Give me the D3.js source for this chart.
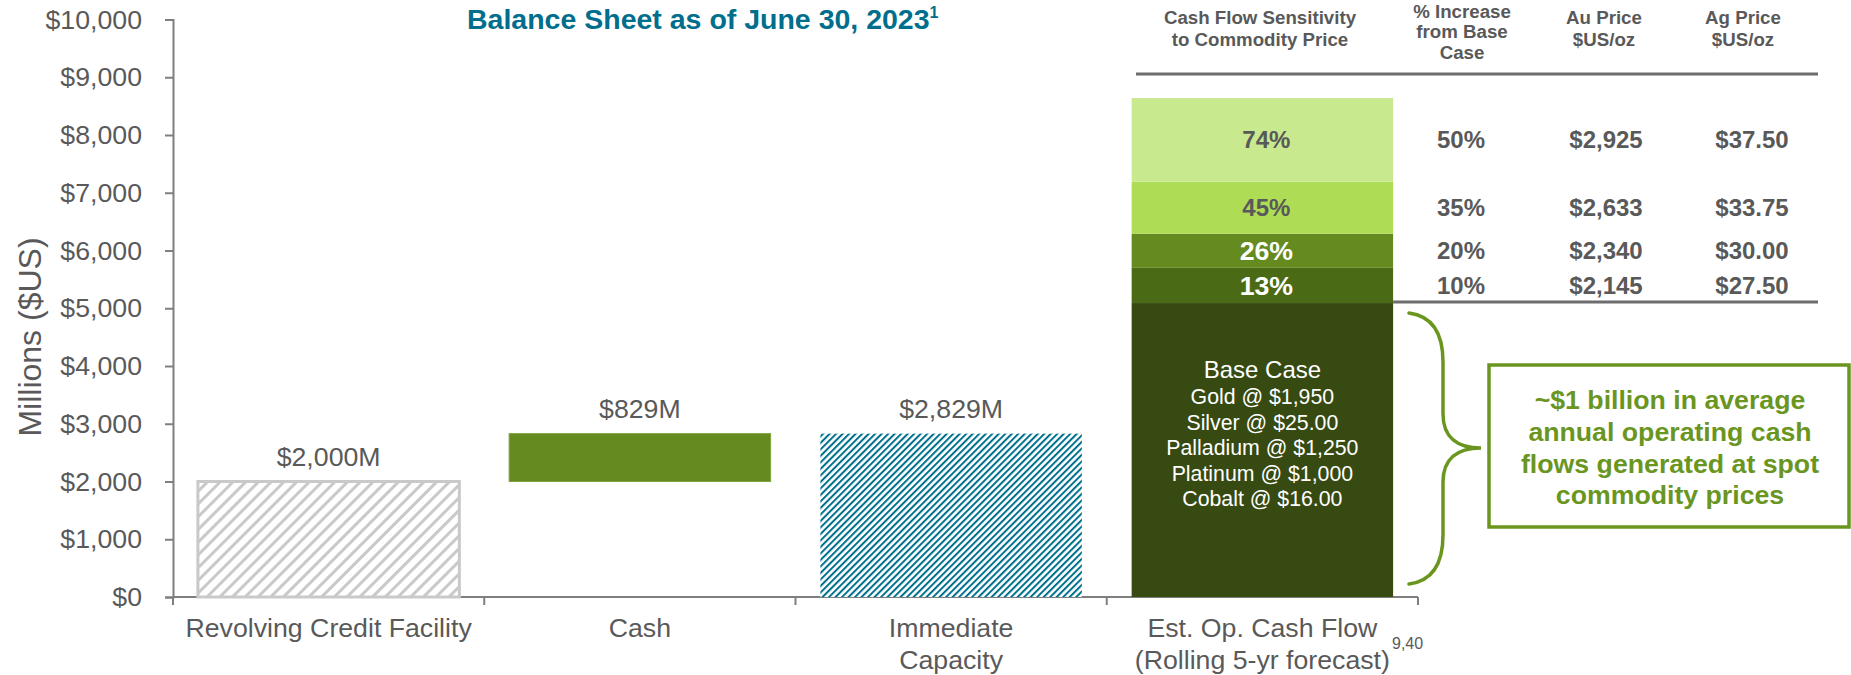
<!DOCTYPE html>
<html>
<head>
<meta charset="utf-8">
<script src="https://cdn.jsdelivr.net/npm/d3@7"></script>
<style>
  html, body { margin: 0; padding: 0; background: #fff; }
  svg { display: block; font-family: "Liberation Sans", Arial, sans-serif; }
</style>
</head>
<body>
<svg id="chart" width="1851" height="675"></svg>
<script>
// ---------------- DATA ----------------
const categories = ["Revolving Credit Facility", "Cash", "Immediate Capacity", "Est. Op. Cash Flow (Rolling 5-yr forecast)"];
const categoryLines = [["Revolving Credit Facility"], ["Cash"], ["Immediate", "Capacity"], ["Est. Op. Cash Flow", "(Rolling 5-yr forecast)"]];
const barBase = [0, 2000, 0];          // floating start of first three bars
const barValue = [2000, 829, 2829];     // amount of first three bars
const barLabels = ["$2,000M", "$829M", "$2,829M"];
const yTicks = [0, 1000, 2000, 3000, 4000, 5000, 6000, 7000, 8000, 9000, 10000];

// stacked est. op. cash flow: base case then sensitivity increments (bottom to top)
const stackNames = ["Base Case", "13%", "26%", "45%", "74%"];
const stackValues = [5090, 610, 590, 900, 1450];

const pctIncrease = ["", "10%", "20%", "35%", "50%"];
const auPrice = ["", "$2,145", "$2,340", "$2,633", "$2,925"];
const agPrice = ["", "$27.50", "$30.00", "$33.75", "$37.50"];
const baseCaseLines = ["Gold @ $1,950", "Silver @ $25.00", "Palladium @ $1,250", "Platinum @ $1,000", "Cobalt @ $16.00"];
const calloutLines = ["~$1 billion in average", "annual operating cash", "flows generated at spot", "commodity prices"];

// ---------------- SETUP ----------------
const svg = d3.select("#chart");
const gray = "#595959";
const green = "#6a961f";
const stackColors = ["#364a12", "#4b6a16", "#658a1f", "#aedd55", "#c9e98f"];

const x = d3.scaleBand().domain(categories).range([173, 1418]).paddingInner(0.16).paddingOuter(0.08);
const y = d3.scaleLinear().domain([0, 10000]).range([597, 19.5]);

// patterns
const defs = svg.append("defs");
const pGray = defs.append("pattern").attr("id", "hatchGray").attr("patternUnits", "userSpaceOnUse")
  .attr("width", 9).attr("height", 9).attr("patternTransform", "rotate(45)");
pGray.append("rect").attr("width", 9).attr("height", 9).attr("fill", "#fff");
pGray.append("rect").attr("x", 0).attr("width", 3).attr("height", 9).attr("fill", "#c9c9c9");

const pTeal = defs.append("pattern").attr("id", "hatchTeal").attr("patternUnits", "userSpaceOnUse")
  .attr("width", 4.6).attr("height", 4.6).attr("patternTransform", "rotate(45)");
pTeal.append("rect").attr("width", 4.6).attr("height", 4.6).attr("fill", "#fff");
pTeal.append("rect").attr("x", 0).attr("width", 2).attr("height", 4.6).attr("fill", "#00708c");

// ---------------- AXES ----------------
const yAxis = d3.axisLeft(y).tickValues(yTicks).tickSize(8).tickPadding(23)
  .tickFormat(d => "$" + d3.format(",")(d));
const gy = svg.append("g").attr("transform", "translate(173,0)").call(yAxis);
gy.select(".domain").attr("stroke", "#7f7f7f").attr("stroke-width", 2);
gy.selectAll(".tick line").attr("stroke", "#7f7f7f").attr("stroke-width", 2);
gy.selectAll(".tick text").attr("fill", gray).attr("font-size", "26.7px");

// x axis baseline and boundary ticks
const step = x.step();
const xTickPos = d3.range(categories.length + 1).map(i => 173 + i * step);
svg.append("line").attr("x1", 173).attr("x2", 1418).attr("y1", y(0)).attr("y2", y(0))
  .attr("stroke", "#7f7f7f").attr("stroke-width", 2);
svg.selectAll(".xtick").data(xTickPos).enter().append("line")
  .attr("x1", d => d).attr("x2", d => d).attr("y1", y(0)).attr("y2", y(0) + 8)
  .attr("stroke", "#7f7f7f").attr("stroke-width", 2);

// category labels
categories.forEach((c, i) => {
  const t = svg.append("text").attr("x", x(c) + x.bandwidth() / 2).attr("y", 637)
    .attr("text-anchor", "middle").attr("fill", gray).attr("font-size", "26.7px");
  categoryLines[i].forEach((ln, j) => {
    t.append("tspan").attr("x", x(c) + x.bandwidth() / 2).attr("dy", j === 0 ? 0 : 32).text(ln);
  });
});
svg.append("text").attr("x", 1392).attr("y", 649).attr("fill", gray).attr("font-size", "16px").text("9,40");

// y axis title
svg.append("text").attr("transform", "translate(41,337) rotate(-90)").attr("text-anchor", "middle")
  .attr("fill", gray).attr("font-size", "32px").text("Millions ($US)");

// ---------------- BARS ----------------
const fills = ["url(#hatchGray)", "#658a1f", "url(#hatchTeal)"];
const strokes = ["#c9c9c9", "#7fa33a", "none"];
barValue.forEach((v, i) => {
  const c = categories[i];
  svg.append("rect")
    .attr("x", x(c)).attr("width", x.bandwidth())
    .attr("y", y(barBase[i] + v)).attr("height", y(barBase[i]) - y(barBase[i] + v))
    .attr("fill", fills[i]).attr("stroke", strokes[i]).attr("stroke-width", i === 0 ? 3 : 1);
  svg.append("text").attr("x", x(c) + x.bandwidth() / 2).attr("y", y(barBase[i] + v) - 25)
    .attr("dy", "0.35em").attr("text-anchor", "middle").attr("fill", gray).attr("font-size", "26.7px")
    .text(barLabels[i]);
});

// stacked bar
const cLast = categories[3];
let cum = 0;
const segs = stackValues.map((v, i) => { const s = { name: stackNames[i], y0: cum, y1: cum + v, i }; cum += v; return s; });
svg.selectAll(".seg").data(segs).enter().append("rect")
  .attr("x", x(cLast)).attr("width", x.bandwidth())
  .attr("y", d => y(d.y1)).attr("height", d => y(d.y0) - y(d.y1))
  .attr("fill", d => stackColors[d.i]);

const cx = x(cLast) + x.bandwidth() / 2;
segs.slice(1).forEach(d => {
  const my = y((d.y0 + d.y1) / 2);
  const big = d.i <= 2;
  svg.append("text").attr("x", cx + 4).attr("y", my).attr("dy", "0.35em").attr("text-anchor", "middle")
    .attr("font-weight", "bold").attr("font-size", big ? "26.7px" : "24px")
    .attr("fill", big ? "#fff" : gray).text(d.name);
  svg.append("text").attr("x", 1461).attr("y", my).attr("dy", "0.35em").attr("text-anchor", "middle")
    .attr("font-weight", "bold").attr("font-size", "24px").attr("fill", gray).text(pctIncrease[d.i]);
  svg.append("text").attr("x", 1606).attr("y", my).attr("dy", "0.35em").attr("text-anchor", "middle")
    .attr("font-weight", "bold").attr("font-size", "24px").attr("fill", gray).text(auPrice[d.i]);
  svg.append("text").attr("x", 1752).attr("y", my).attr("dy", "0.35em").attr("text-anchor", "middle")
    .attr("font-weight", "bold").attr("font-size", "24px").attr("fill", gray).text(agPrice[d.i]);
});

// base case text
svg.append("text").attr("x", cx).attr("y", 370).attr("dy", "0.35em").attr("text-anchor", "middle")
  .attr("fill", "#fff").attr("font-size", "24px").text(stackNames[0]);
baseCaseLines.forEach((ln, j) => {
  svg.append("text").attr("x", cx).attr("y", 397 + j * 25.5).attr("dy", "0.35em").attr("text-anchor", "middle")
    .attr("fill", "#fff").attr("font-size", "21.3px").text(ln);
});

// ---------------- TABLE HEADER ----------------
const headers = [
  { x: 1260, lines: ["Cash Flow Sensitivity", "to Commodity Price"], y0: 17 },
  { x: 1462, lines: ["% Increase", "from Base", "Case"], y0: 11, gap: 20.5 },
  { x: 1604, lines: ["Au Price", "$US/oz"], y0: 17 },
  { x: 1743, lines: ["Ag Price", "$US/oz"], y0: 17 }
];
headers.forEach(h => {
  h.lines.forEach((ln, j) => {
    svg.append("text").attr("x", h.x).attr("y", h.y0 + j * (h.gap || 22.7)).attr("dy", "0.35em").attr("text-anchor", "middle")
      .attr("font-weight", "bold").attr("font-size", "18.7px").attr("fill", gray).text(ln);
  });
});
svg.append("line").attr("x1", 1136).attr("x2", 1818).attr("y1", 74).attr("y2", 74)
  .attr("stroke", "#6d6d6d").attr("stroke-width", 3);
svg.append("line").attr("x1", x(cLast) + x.bandwidth()).attr("x2", 1818).attr("y1", y(stackValues[0]) - 1).attr("y2", y(stackValues[0]) - 1)
  .attr("stroke", "#6d6d6d").attr("stroke-width", 3);

// ---------------- TITLE ----------------
const title = svg.append("text").attr("x", 467).attr("y", 29).attr("fill", "#006e8c")
  .attr("font-weight", "bold").attr("font-size", "28.5px");
title.append("tspan").text("Balance Sheet as of June 30, 2023");
title.append("tspan").attr("font-size", "16px").attr("dy", -11).text("1");

// ---------------- BRACE + CALLOUT ----------------
svg.append("path")
  .attr("d", "M1409,313 C1432,316 1443,332 1443,362 L1443,414 C1443,437 1457,448 1481,448 C1457,448 1443,459 1443,482 L1443,535 C1443,565 1432,581 1409,584")
  .attr("fill", "none").attr("stroke", green).attr("stroke-width", 3.5).attr("stroke-linecap", "round");
svg.append("rect").attr("x", 1489).attr("y", 365).attr("width", 360).attr("height", 162)
  .attr("fill", "#fff").attr("stroke", green).attr("stroke-width", 3.5);
calloutLines.forEach((ln, j) => {
  svg.append("text").attr("x", 1670).attr("y", 400 + j * 31.7).attr("dy", "0.35em").attr("text-anchor", "middle")
    .attr("font-weight", "bold").attr("font-size", "26.7px").attr("fill", green).text(ln);
});
</script>
</body>
</html>
